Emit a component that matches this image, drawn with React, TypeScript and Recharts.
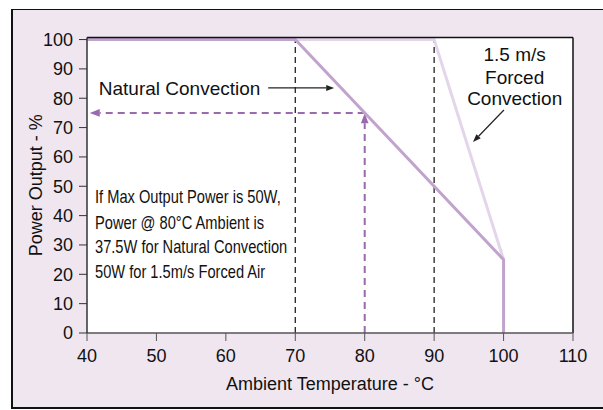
import type {ReactElement} from 'react';
import {
  LineChart,
  Line,
  XAxis,
  YAxis,
  ReferenceLine,
  ReferenceArea,
  ReferenceDot,
  Label,
} from 'recharts';

// temperature (°C) vs power output (%)
const naturalCurve = [
  {temp: 40, power: 100},
  {temp: 70, power: 100},
  {temp: 100, power: 25},
  {temp: 100, power: 0},
];
const forcedCurve = [
  {temp: 70, power: 100},
  {temp: 90, power: 100},
  {temp: 100, power: 25},
];

const xTicks = [40, 50, 60, 70, 80, 90, 100, 110];
const yTicks = [0, 10, 20, 30, 40, 50, 60, 70, 80, 90, 100];
const yTop = 100.7;

// knee points marked by dashed guides
const kneeTemps = [70, 90];
const exampleTemp = 80;
const examplePower = 75;

const noteLines = [
  'If Max Output Power is 50W,',
  'Power @ 80°C Ambient is',
  '37.5W for Natural Convection',
  '50W for 1.5m/s Forced Air',
];
const noteY = [46.4, 37.6, 29.4, 20.9];
const forcedLabel = ['1.5 m/s', 'Forced', 'Convection'];
const forcedLabelY = [95.1, 87.3, 80.2];

const FONT = '"Liberation Sans", Arial, sans-serif';
const NATURAL = '#c1a3cd';
const FORCED = '#e4d6ea';
const GUIDE = '#9b6aad';

type LineShapeProps = {x1?: number; y1?: number; x2?: number; y2?: number};

// line with a filled arrowhead at its end point
const arrowShape =
  (color: string, width: number, dash: string | undefined, len: number, half: number) =>
  (p: LineShapeProps): ReactElement => {
    const x1 = p.x1 ?? 0;
    const y1 = p.y1 ?? 0;
    const x2 = p.x2 ?? 0;
    const y2 = p.y2 ?? 0;
    const ang = Math.atan2(y2 - y1, x2 - x1);
    const bx = x2 - len * Math.cos(ang);
    const by = y2 - len * Math.sin(ang);
    const nx = -Math.sin(ang) * half;
    const ny = Math.cos(ang) * half;
    return (
      <g>
        <line
          x1={x1}
          y1={y1}
          x2={bx}
          y2={by}
          stroke={color}
          strokeWidth={width}
          strokeDasharray={dash}
        />
        <polygon
          points={`${x2},${y2} ${bx + nx},${by + ny} ${bx - nx},${by - ny}`}
          fill={color}
        />
      </g>
    );
  };

// text placed at a data point; squeeze < 1 narrows it horizontally
const textShape =
  (text: string, anchor: 'start' | 'middle', size: number, squeeze = 1) =>
  (p: {cx?: number; cy?: number}): ReactElement => (
    <text
      x={0}
      y={0}
      dy="0.36em"
      textAnchor={anchor}
      fontSize={size}
      fontFamily={FONT}
      fill="#111"
      transform={`translate(${p.cx ?? 0} ${p.cy ?? 0}) scale(${squeeze} 1)`}
    >
      {text}
    </text>
  );

export default function App(): ReactElement {
  return (
    <div>
      <div
        style={{
          position: 'absolute',
          left: 11,
          top: 9,
          width: 590,
          height: 397,
          background: '#f0e6ef',
          borderTop: '1.5px solid #111',
          borderLeft: '2px solid #111',
          borderBottom: '2px solid #111',
        }}
      />
      <div style={{position: 'absolute', left: 0, top: 0}}>
        <LineChart
          width={603}
          height={410}
          margin={{top: 37.5, right: 30, bottom: 0, left: 0}}
          style={{fontFamily: FONT}}
        >
          <XAxis
            type="number"
            dataKey="temp"
            domain={[40, 110]}
            ticks={xTicks}
            height={77}
            tickSize={8}
            tickMargin={8}
            tick={{fill: '#111', fontSize: 18}}
            stroke="#555"
            axisLine={{stroke: '#555', strokeWidth: 1.5}}
            allowDataOverflow
          >
            <Label
              content={({viewBox}: any) => (
                <text
                  x={viewBox.x + viewBox.width / 2}
                  y={viewBox.y + 56.5}
                  textAnchor="middle"
                  fontSize={18}
                  fill="#111"
                >
                  Ambient Temperature - °C
                </text>
              )}
            />
          </XAxis>
          <YAxis
            type="number"
            dataKey="power"
            domain={[0, yTop]}
            ticks={yTicks}
            width={87}
            tickSize={8}
            tickMargin={6}
            tick={{fill: '#111', fontSize: 18}}
            stroke="#333"
            axisLine={{stroke: '#333', strokeWidth: 1.5}}
            allowDataOverflow
          >
            <Label
              content={({viewBox}: any) => {
                const cx = 41.5;
                const cy = viewBox.y + viewBox.height / 2;
                return (
                  <text
                    x={cx}
                    y={cy}
                    textAnchor="middle"
                    fontSize={18}
                    fill="#111"
                    transform={`rotate(-90 ${cx} ${cy})`}
                  >
                    Power Output - %
                  </text>
                );
              }}
            />
          </YAxis>

          <ReferenceArea
            x1={40}
            x2={110}
            y1={0}
            y2={yTop}
            fill="#fff"
            fillOpacity={1}
            stroke="none"
          />

          {kneeTemps.map((t) => (
            <ReferenceLine
              key={t}
              segment={[
                {x: t, y: 0},
                {x: t, y: 100},
              ]}
              stroke="#222"
              strokeWidth={1.3}
              strokeDasharray="6 4"
            />
          ))}

          <ReferenceLine
            segment={[
              {x: exampleTemp, y: 0},
              {x: exampleTemp, y: examplePower - 0.1},
            ]}
            shape={arrowShape(GUIDE, 2, '7 5', 10, 3.8)}
          />
          <ReferenceLine
            segment={[
              {x: exampleTemp, y: examplePower},
              {x: 40.4, y: examplePower},
            ]}
            shape={arrowShape(GUIDE, 2, '7 5', 10, 3.8)}
          />

          <Line
            data={forcedCurve}
            dataKey="power"
            type="linear"
            stroke={FORCED}
            strokeWidth={3}
            dot={false}
            activeDot={false}
            isAnimationActive={false}
          />
          <Line
            data={naturalCurve}
            dataKey="power"
            type="linear"
            stroke={NATURAL}
            strokeWidth={3}
            dot={false}
            activeDot={false}
            isAnimationActive={false}
          />

          {/* annotation arrows */}
          <ReferenceLine
            segment={[
              {x: 66.1, y: 83.5},
              {x: 75.6, y: 83.5},
            ]}
            shape={arrowShape('#222', 1.2, undefined, 8, 3)}
          />
          <ReferenceLine
            segment={[
              {x: 100.05, y: 76.0},
              {x: 95.6, y: 65.1},
            ]}
            shape={arrowShape('#222', 1.2, undefined, 8, 3)}
          />

          <ReferenceDot
            x={41.7}
            y={83.5}
            r={0}
            ifOverflow="visible"
            shape={textShape('Natural Convection', 'start', 19)}
          />
          {forcedLabel.map((s, i) => (
            <ReferenceDot
              key={s}
              x={101.6}
              y={forcedLabelY[i]}
              r={0}
              ifOverflow="visible"
              shape={textShape(s, 'middle', 19)}
            />
          ))}
          {noteLines.map((s, i) => (
            <ReferenceDot
              key={s}
              x={41.15}
              y={noteY[i]}
              r={0}
              ifOverflow="visible"
              shape={textShape(s, 'start', 18, 0.815)}
            />
          ))}

          {/* plot frame: top and right edges */}
          <ReferenceLine y={yTop} stroke="#111" strokeWidth={1.5} />
          <ReferenceLine x={110} stroke="#111" strokeWidth={1.5} />
        </LineChart>
      </div>
    </div>
  );
}
